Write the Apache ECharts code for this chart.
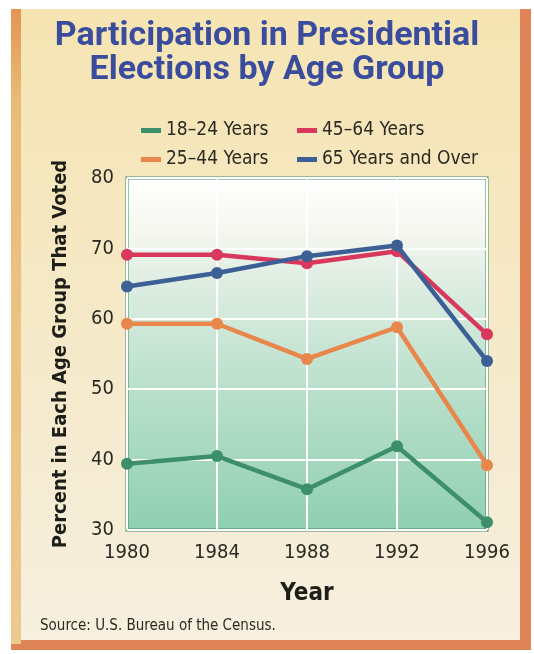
<!DOCTYPE html>
<html>
<head>
<meta charset="utf-8">
<script src="https://cdn.jsdelivr.net/npm/echarts@6/dist/echarts.min.js"></script>
<style>
  html, body { margin: 0; padding: 0; background: #ffffff; }
  #chart { width: 534px; height: 654px; }
</style>
</head>
<body>
<div id="chart"></div>
<script>
// data
var years = ['1980', '1984', '1988', '1992', '1996'];
var age18to24 = [39.4, 40.5, 35.8, 41.9, 31.1];
var age25to44 = [59.3, 59.3, 54.3, 58.8, 39.2];
var age45to64 = [69.1, 69.1, 67.9, 69.6, 57.8];
var age65plus = [64.6, 66.5, 68.9, 70.4, 54.0];
var yTicks = [30, 40, 50, 60, 70, 80];

var narrow = '"Liberation Sans Narrow", "DejaVu Sans Condensed", "Roboto Condensed", Roboto, sans-serif';

var names = ['18–24 Years', '25–44 Years', '45–64 Years', '65 Years and Over'];
var colors = ['#3d8f6b', '#e8864c', '#d8385c', '#3c5f96'];
var values = [age18to24, age25to44, age45to64, age65plus];

var series = names.map(function (n, i) {
    return {
        name: n,
        type: 'line',
        data: values[i],
        symbol: 'circle',
        symbolSize: 12,
        lineStyle: { width: 4.5, color: colors[i] },
        itemStyle: { color: colors[i] },
        z: i === 3 ? 4 : 3
    };
});

// legend slots: [x, y] of the swatch
var legendPos = { '18–24 Years': [136, 116], '45–64 Years': [292, 116],
                  '25–44 Years': [136, 145], '65 Years and Over': [292, 145] };
var legends = Object.keys(legendPos).map(function (n) {
    return {
        data: [n],
        left: legendPos[n][0],
        top: legendPos[n][1],
        itemWidth: 20,
        itemHeight: 5,
        icon: 'rect',
        itemGap: 4,
        textStyle: { fontFamily: narrow, fontSize: 19, color: '#2a2a22' }
    };
});

var chart = echarts.init(document.getElementById('chart'));
chart.setOption({
    backgroundColor: '#ffffff',
    graphic: [
        { type: 'rect', shape: { x: 11, y: 9, width: 520, height: 641 }, style: { fill: '#df8456' }, z: -10 },
        { type: 'rect', shape: { x: 11, y: 9, width: 10, height: 635 },
          style: { fill: new echarts.graphic.LinearGradient(0, 0, 0, 1, [
              { offset: 0, color: '#e39552' }, { offset: 0.15, color: '#e9bd78' }, { offset: 1, color: '#ecc98e' }]) }, z: -9 },
        { type: 'rect', shape: { x: 21, y: 9, width: 499, height: 631 },
          style: { fill: new echarts.graphic.LinearGradient(0, 0, 0, 1, [
              { offset: 0, color: '#f6e4b2' }, { offset: 0.5, color: '#f5e9c8' }, { offset: 1, color: '#f7efdf' }]) }, z: -8 },
        { type: 'text', left: 40, top: 619,
          style: { text: 'Source: U.S. Bureau of the Census.', font: '15px ' + narrow, fill: '#2a2a22' } }
    ],
    title: {
        text: 'Participation in Presidential\nElections by Age Group',
        left: 'center',
        top: 14,
        textStyle: { fontFamily: 'Roboto, sans-serif', fontWeight: 'bold', fontSize: 34, lineHeight: 34, color: '#3a4c9e' }
    },
    legend: legends,
    grid: {
        left: 127, top: 178, width: 360, height: 352,
        show: true,
        borderColor: '#3f8c62',
        borderWidth: 3,
        backgroundColor: new echarts.graphic.LinearGradient(0, 0, 0, 1, [
            { offset: 0, color: '#ffffff' },
            { offset: 0.15, color: '#f6f7f0' },
            { offset: 0.3, color: '#deede2' },
            { offset: 0.55, color: '#bfe2cf' },
            { offset: 1, color: '#8fcfb1' }])
    },
    xAxis: {
        type: 'category',
        data: years,
        boundaryGap: false,
        name: 'Year',
        nameLocation: 'middle',
        nameGap: 52,
        nameTextStyle: { fontFamily: narrow, fontWeight: 'bold', fontSize: 24, color: '#1e1e18' },
        axisLine: { show: false },
        axisTick: { show: false },
        axisLabel: { fontFamily: narrow, fontSize: 20, color: '#2a2a22', margin: 13 },
        splitLine: { show: true, lineStyle: { color: '#ffffff', width: 2 } }
    },
    yAxis: {
        type: 'value',
        min: yTicks[0],
        max: yTicks[yTicks.length - 1],
        interval: 10,
        name: 'Percent in Each Age Group That Voted',
        nameLocation: 'middle',
        nameGap: 56,
        nameTextStyle: { fontFamily: narrow, fontWeight: 'bold', fontSize: 20, color: '#1e1e18' },
        axisLine: { show: false },
        axisTick: { show: false },
        axisLabel: { fontFamily: narrow, fontSize: 20, color: '#2a2a22', margin: 13 },
        splitLine: { show: true, lineStyle: { color: '#ffffff', width: 2 } }
    },
    series: series
});
</script>
</body>
</html>
